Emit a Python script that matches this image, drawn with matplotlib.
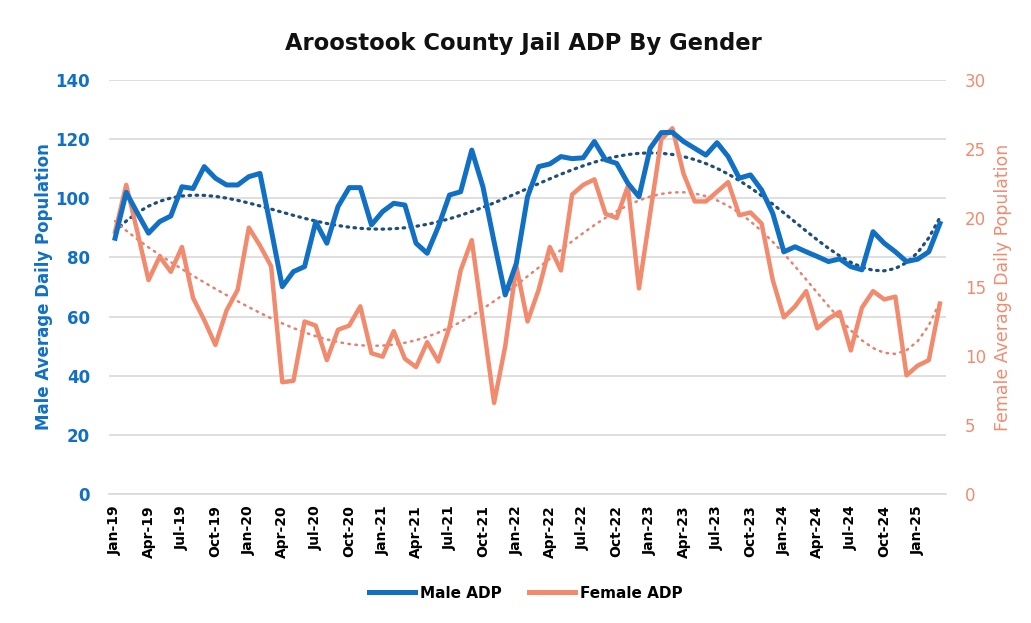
import numpy as np
import pandas as pd
import matplotlib
matplotlib.use("Agg")
import matplotlib.pyplot as plt
from matplotlib.lines import Line2D

# ---- data ----
months = pd.date_range("2019-01-01", "2025-03-01", freq="MS")
month_labels = [d.strftime("%b-%y") for d in months]

male_adp = [86.5, 102, 95, 88.2, 92.1, 94, 103.9, 103.3, 110.7, 106.8, 104.5, 104.5,
            107.3, 108.4, 89.5, 70.1, 75.2, 76.9, 92, 84.8, 97.2, 103.6, 103.6, 91,
            95.5, 98.3, 97.7, 84.8, 81.4, 90.4, 101.1, 102.2, 116.3, 103.9, 85.3, 67.3,
            78, 100.5, 110.7, 111.6, 114.1, 113.4, 113.7, 119.2, 113, 111.8, 105.1, 100.5,
            116.9, 122.2, 122.3, 119.2, 116.9, 114.6, 118.8, 114.1, 106.8, 107.9, 102.8, 94.9,
            81.9, 83.6, 81.9, 80.3, 78.6, 79.5, 76.9, 75.8, 88.7, 84.8, 81.9, 78.6,
            79.4, 81.9, 91.5]

female_adp = [19.0, 22.4, 19.0, 15.5, 17.2, 16.1, 17.9, 14.2, 12.6, 10.8, 13.3, 14.8,
              19.3, 18.0, 16.5, 8.1, 8.2, 12.5, 12.2, 9.7, 11.9, 12.2, 13.6, 10.2,
              9.95, 11.8, 9.8, 9.2, 11.0, 9.6, 12.1, 16.2, 18.4, 12.5, 6.6, 10.7,
              16.5, 12.5, 14.8, 17.9, 16.2, 21.7, 22.4, 22.8, 20.3, 20.0, 22.3, 14.9,
              20.3, 25.7, 26.5, 23.2, 21.2, 21.2, 21.9, 22.6, 20.2, 20.4, 19.6, 15.5,
              12.8, 13.6, 14.7, 12.0, 12.7, 13.2, 10.4, 13.5, 14.7, 14.1, 14.3, 8.6,
              9.3, 9.7, 13.8]

male_ticks = [0, 20, 40, 60, 80, 100, 120, 140]
female_ticks = [0, 5, 10, 15, 20, 25, 30]

# ---- style ----
MALE = "#1170C4"
FEMALE = "#F28B6E"
MALE_TREND = "#1F4E79"
FEMALE_TREND = "#E6806F"
plt.rcParams["font.family"] = ["DejaVu Sans"]

x = np.arange(len(months))
xn = (x - x.mean()) / x.std()
male_trend = np.polyval(np.polyfit(xn, male_adp, 6), xn)
female_trend = np.polyval(np.polyfit(xn, female_adp, 6), xn)

fig = plt.figure(figsize=(10.31, 6.23), dpi=100)
ax = fig.add_axes([0.1062, 0.2071, 0.8109, 0.6645])
ax2 = ax.twinx()

ax.set_ylim(0, 140)
ax2.set_ylim(0, 30)
ax.set_xlim(-0.5, len(months) - 0.5)

ax.set_yticks(male_ticks)
ax2.set_yticks(female_ticks)
ax.yaxis.grid(True, color="#d9d9d9", lw=1.2)
ax.set_axisbelow(True)

for a in (ax, ax2):
    for s in a.spines.values():
        s.set_visible(False)
ax.spines["bottom"].set_visible(True)
ax.spines["bottom"].set_color("#d9d9d9")
ax.spines["bottom"].set_linewidth(1.2)

ax.tick_params(axis="y", length=0, pad=14, labelcolor=MALE, labelsize=12)
for t in ax.get_yticklabels():
    t.set_fontweight("bold")
ax2.tick_params(axis="y", length=0, pad=14, labelcolor=FEMALE, labelsize=12)

tick_pos = x[::3]
ax.set_xticks(tick_pos)
ax.set_xticklabels([month_labels[i] for i in tick_pos], rotation=90,
                   fontsize=10, fontweight="bold", color="black")
ax.tick_params(axis="x", length=0, pad=8)

# trend lines (6th-order polynomial fits of the series)
ax2.plot(x, male_trend, color=MALE_TREND, lw=2.3, ls=(0, (0.5, 1.7)),
         dash_capstyle="round", zorder=1, transform=ax.transData)
ax2.plot(x, female_trend, color=FEMALE_TREND, lw=1.8, ls=(0, (0.6, 2.2)),
         dash_capstyle="round", zorder=1)
# data lines
ax2.plot(x, female_adp, color=FEMALE, lw=3.2, zorder=2, solid_joinstyle="round")
ax2.plot(x, male_adp, color=MALE, lw=3.6, zorder=3, solid_joinstyle="round",
         transform=ax.transData)

ax.set_ylabel("Male Average Daily Population", color=MALE, fontsize=12,
              fontweight="bold", labelpad=2)
ax2.set_ylabel("Female Average Daily Population", color=FEMALE, fontsize=12.5,
               labelpad=6)

fig.suptitle("Aroostook County Jail ADP By Gender", x=0.508, y=0.948,
             fontsize=16.3, fontweight="bold", color="#111111")

handles = [Line2D([0], [0], color=MALE, lw=3.6), Line2D([0], [0], color=FEMALE, lw=3.6)]
leg = fig.legend(handles, ["Male ADP", "Female ADP"], loc="center",
                 bbox_to_anchor=(0.51, 0.048), ncol=2, frameon=False,
                 prop={"weight": "bold", "size": 11}, handlelength=3.0,
                 columnspacing=1.8, handletextpad=0.3)

fig.savefig("out.png", dpi=100, facecolor="white")
